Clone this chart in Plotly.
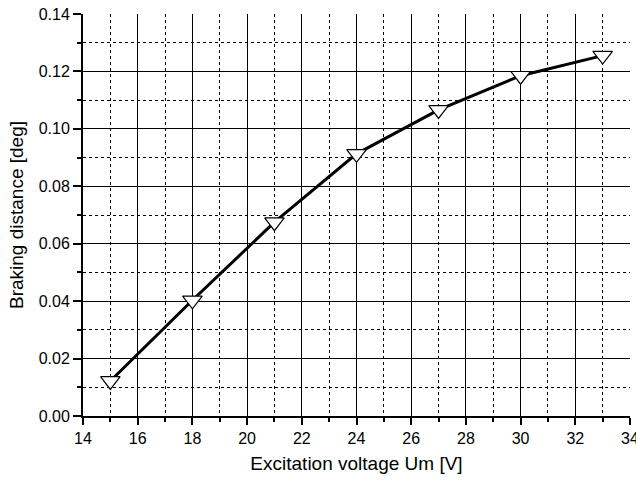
import plotly.graph_objects as go

voltage = [15, 18, 21, 24, 27, 30, 33]
braking = [0.0122, 0.0403, 0.0675, 0.0913, 0.1066, 0.1185, 0.1255]

x_ticks = list(range(14, 35, 2))
y_ticks = [0.00, 0.02, 0.04, 0.06, 0.08, 0.10, 0.12, 0.14]

fig = go.Figure()
fig.add_trace(go.Scatter(
    x=voltage, y=braking, mode="lines+markers",
    line=dict(color="black", width=3),
    marker=dict(symbol="triangle-down", size=17, color="white",
                line=dict(color="black", width=1.2)),
    showlegend=False,
))

font = dict(family="Liberation Sans, Arial, sans-serif", color="black")

fig.update_layout(
    width=636, height=480,
    margin=dict(l=83, r=6, t=14, b=64),
    paper_bgcolor="white", plot_bgcolor="white",
    font=dict(**font, size=16),
)
fig.update_xaxes(
    range=[14, 34], tickvals=x_ticks, ticktext=[str(v) for v in x_ticks],
    showline=True, linecolor="black", linewidth=2, mirror=False,
    ticks="outside", ticklen=7, tickwidth=1.5, tickcolor="black",
    showgrid=True, gridcolor="black", gridwidth=1,
    minor=dict(dtick=1, ticks="outside", ticklen=4, tickcolor="black",
               showgrid=True, gridcolor="black", gridwidth=1, griddash="dot"),
    zeroline=False, ticklabeloverflow="allow", automargin=False,
    title=dict(text="Excitation voltage Um [V]", font=dict(size=19), standoff=10),
    tickfont=dict(size=16),
)
fig.update_yaxes(
    range=[0, 0.14], tickvals=y_ticks, ticktext=["%.2f" % v for v in y_ticks],
    showline=True, linecolor="black", linewidth=2, mirror=False,
    ticks="outside", ticklen=8, tickwidth=1.5, tickcolor="black",
    showgrid=True, gridcolor="black", gridwidth=1,
    minor=dict(dtick=0.01, ticks="outside", ticklen=4, tickcolor="black",
               showgrid=True, gridcolor="black", gridwidth=1, griddash="dot"),
    zeroline=False, ticklabeloverflow="allow", automargin=False,
    title=dict(text="Braking distance [deg]", font=dict(size=19), standoff=10),
    tickfont=dict(size=16),
)

fig.write_html("out.html")
